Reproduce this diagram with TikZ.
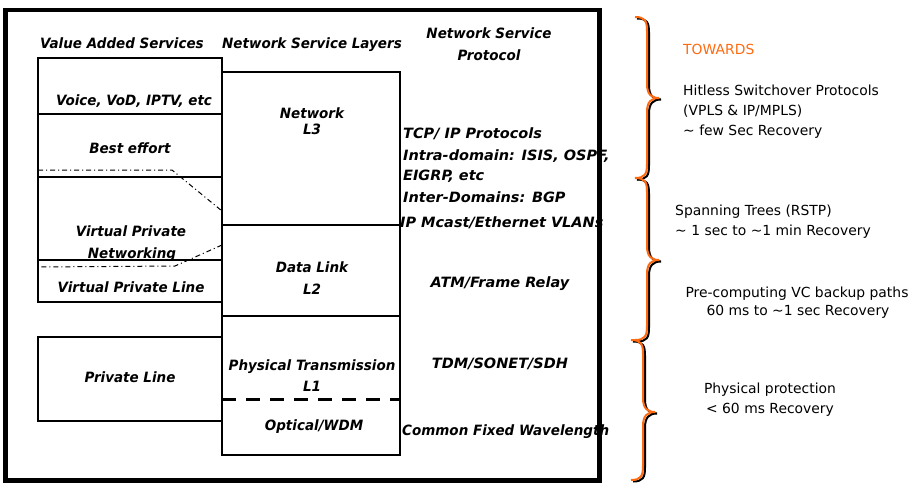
\documentclass[tikz,border=0pt]{standalone}
\usepackage{fontspec}
\setmainfont{DejaVu Sans}
\newfontfamily\labfont[FakeStretch=0.95]{DejaVu Sans}
\newfontfamily\protfont[FakeStretch=1.02]{DejaVu Sans}
\definecolor{brorange}{RGB}{255,106,16}

% right-pointing curly brace: #1 spine x, #2 top y, #3 tip y, #4 bottom y
\newcommand\curlybrace[4]{%
  \foreach \dx/\dy/\col in {2/1.5/black, 0/0/brorange}{%
    \draw[line width=2pt, \col, shift={(\dx,\dy)}]
      (#1-12,#2) .. controls (#1-2,#2) and (#1,#2+4) .. (#1,#2+14)
      -- (#1,#3-14) .. controls (#1,#3-4) and (#1+4,#3) .. (#1+12,#3)
      .. controls (#1+4,#3) and (#1,#3+4) .. (#1,#3+14)
      -- (#1,#4-14) .. controls (#1,#4-4) and (#1-2,#4) .. (#1-12,#4);
  }%
}

\begin{document}
\begin{tikzpicture}[x=1pt,y=-1pt,
  box/.style={draw, line width=1.3pt},
  lab/.style={font=\labfont\bfseries\itshape\fontsize{14.2}{16}\selectfont,
    inner sep=0pt, text height=10pt, text depth=0pt},
  prot/.style={lab, font=\protfont\bfseries\itshape\fontsize{14.2}{16}\selectfont},
  note/.style={font=\fontsize{13.9}{16}\selectfont,
    inner sep=0pt, text height=10pt, text depth=0pt},
  ddot/.style={line width=1pt, dash pattern=on 5pt off 3pt on 1pt off 3pt},
]
\useasboundingbox (0,0) rectangle (911,483);

% column headings
\node[lab] (hvas) at (122,43) {Value Added Services};
\node[lab] (hnsl) at (312,43) {Network Service Layers};
\node[lab] (hnsp1) at (489,33) {Network Service};
\node[lab] (hnsp2) at (489,55) {Protocol};

% value added services
\draw[box] (38,58) rectangle (222,114);
\draw[box] (38,114) rectangle (222,177);
\draw[box] (38,177) rectangle (222,260);
\draw[box] (38,260) rectangle (222,302);
\draw[box] (38,337) rectangle (222,421);
\node[lab] (voice) at (134,100) {Voice, VoD, IPTV, etc};
\node[lab] (best) at (130,148) {Best effort};
\node[lab] (vpn1) at (131,231) {Virtual Private};
\node[lab] (vpn2) at (132,253) {Networking};
\node[lab] (vpl) at (131,287) {Virtual Private Line};
\node[lab] (pl) at (130,377) {Private Line};

% dash-dot outline of the VPN region
\draw[ddot] (38,170) -- (172,170) -- (222,211);
\draw[ddot] (222,245) -- (175,266) -- (38,267);

% network service layers
\draw[box] (222,72) rectangle (400,225);
\draw[box] (222,225) rectangle (400,316);
\draw[box] (222,316) rectangle (400,455);
\draw[line width=3pt, dash pattern=on 14pt off 10pt] (222,399) -- (400,399);
\node[lab] (net) at (312,113) {Network};
\node[lab] (l3) at (312,129) {L3};
\node[lab] (dl) at (312,267) {Data Link};
\node[lab] (l2) at (312,289) {L2};
\node[lab] (phys) at (312,365) {Physical Transmission};
\node[lab] (l1) at (312,386) {L1};
\node[lab] (opt) at (314,425) {Optical/WDM};

% protocols
\node[prot, anchor=west] (tcp) at (403,133) {TCP/ IP Protocols};
\node[prot, anchor=west] (intra) at (403,155) {Intra-domain: ISIS, OSPF,};
\node[prot, anchor=west] (eigrp) at (403,175) {EIGRP, etc};
\node[prot, anchor=west] (inter) at (403,197) {Inter-Domains: BGP};
\node[prot, anchor=west] (ipm) at (400,222) {IP Mcast/Ethernet VLANs};
\node[prot] (atm) at (500,282) {ATM/Frame Relay};
\node[prot] (tdm) at (500,363) {TDM/SONET/SDH};
\node[lab, anchor=west] (cfw) at (402,430) {Common Fixed Wavelength};

% outer frame
\draw[line width=4.5pt] (5.5,10) rectangle (599.5,480.5);

% recovery braces
\curlybrace{647}{17}{98}{178}
\curlybrace{647}{178}{260}{340}
\curlybrace{643}{340}{412}{480}

% recovery notes
\node[note, anchor=west, text=brorange] (tow) at (683,49) {TOWARDS};
\node[note, anchor=west] (hit) at (683,90) {Hitless Switchover Protocols};
\node[note, anchor=west] (vpls) at (683,110) {(VPLS \& IP/MPLS)};
\node[note, anchor=west] (few) at (683,130) {\textasciitilde{} few Sec Recovery};
\node[note, anchor=west] (span) at (675,210) {Spanning Trees (RSTP)};
\node[note, anchor=west] (min) at (675,230) {\textasciitilde{} 1 sec to \textasciitilde1 min Recovery};
\node[note] (pre) at (797,292) {Pre-computing VC backup paths};
\node[note] (ms) at (798,310) {60 ms to \textasciitilde1 sec Recovery};
\node[note] (pp) at (770,388) {Physical protection};
\node[note] (lt) at (770,408) {< 60 ms Recovery};
\end{tikzpicture}
\end{document}
